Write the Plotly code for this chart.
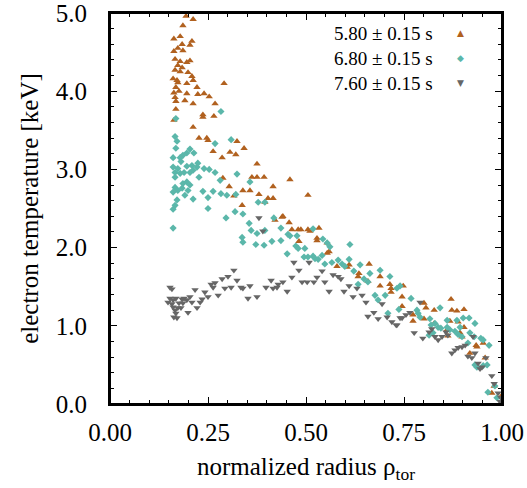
import plotly.graph_objects as go

# ---- data: 5.80 +/- 0.15 s (triangle up) ----
rho_580 = [0.194,0.212,0.186,0.163,0.179,0.209,0.184,0.204,0.173,0.186,0.163,0.166,0.179,0.204,0.196,
           0.173,0.184,0.166,0.179,0.199,0.209,0.161,0.171,0.212,0.196,0.173,0.291,0.222,0.168,0.176,
           0.163,0.196,0.224,0.240,0.253,0.166,0.168,0.191,0.212,0.268,0.168,0.237,0.237,0.265,0.163,
           0.212,0.227,0.247,0.250,0.263,0.324,0.342,0.306,0.321,0.286,0.375,0.288,0.362,0.375,0.393,
           0.459,0.416,0.304,0.339,0.357,0.380,0.316,0.403,0.416,0.395,0.337,0.505,0.439,0.441,0.457,
           0.421,0.464,0.480,0.487,0.505,0.510,0.533,0.482,0.528,0.528,0.554,0.559,0.554,0.579,0.610,
           0.605,0.661,0.635,0.633,0.689,0.658,0.714,0.717,0.717,0.689,0.745,0.745,0.748,0.773,0.773,
           0.801,0.806,0.827,0.801,0.870,0.872,0.885,0.903,0.827,0.867,0.888,0.903,0.860,0.862,0.893,
           0.898,0.934,0.936,0.918,0.952,0.957,0.980,0.974,0.998]
te_580 = [4.96,4.92,4.84,4.67,4.70,4.64,4.60,4.59,4.55,4.52,4.51,4.41,4.38,4.39,4.37,
          4.33,4.30,4.27,4.25,4.24,4.19,4.16,4.14,4.14,4.10,4.11,4.10,4.05,4.05,4.00,
          3.98,3.97,3.96,3.97,3.93,3.92,3.87,3.88,3.84,3.84,3.77,3.70,3.67,3.68,3.63,
          3.54,3.40,3.40,3.37,3.23,3.36,3.27,3.22,3.19,3.15,3.07,2.89,2.90,2.90,2.90,
          2.87,2.78,2.78,2.73,2.73,2.68,2.66,2.63,2.63,2.58,2.54,2.67,2.39,2.40,2.32,
          2.35,2.23,2.23,2.23,2.23,2.21,2.25,2.08,2.12,2.09,2.06,1.95,1.93,1.76,1.78,
          1.75,1.79,1.67,1.63,1.63,1.57,1.53,1.48,1.43,1.51,1.37,1.25,1.51,1.14,1.06,
          1.29,1.23,1.20,1.09,1.34,1.20,1.19,1.21,1.03,1.06,1.05,0.98,0.95,0.87,0.91,
          0.86,0.75,0.73,0.65,0.78,0.59,0.23,0.14,0.10]

# ---- data: 6.80 +/- 0.15 s (diamond) ----
rho_680 = [0.168,0.283,0.166,0.171,0.268,0.309,0.168,0.204,0.214,0.196,0.186,0.179,0.161,0.181,0.161,
           0.173,0.196,0.209,0.222,0.224,0.166,0.179,0.189,0.240,0.253,0.268,0.204,0.212,0.227,0.166,
           0.281,0.324,0.357,0.196,0.186,0.204,0.184,0.166,0.173,0.161,0.199,0.191,0.237,0.250,0.263,
           0.283,0.298,0.321,0.212,0.171,0.166,0.161,0.250,0.378,0.395,0.319,0.339,0.296,0.355,0.161,
           0.360,0.375,0.395,0.337,0.339,0.372,0.393,0.413,0.436,0.418,0.436,0.454,0.459,0.477,0.518,
           0.474,0.480,0.497,0.543,0.554,0.561,0.452,0.495,0.505,0.518,0.523,0.531,0.541,0.612,0.548,
           0.566,0.582,0.592,0.599,0.610,0.622,0.638,0.648,0.658,0.663,0.689,0.714,0.633,0.676,0.684,
           0.702,0.732,0.740,0.709,0.737,0.768,0.783,0.786,0.791,0.816,0.819,0.829,0.860,0.860,0.901,
           0.916,0.931,0.885,0.893,0.837,0.844,0.824,0.867,0.918,0.929,0.880,0.888,0.913,0.898,0.946,
           0.952,0.967,0.931,0.936,0.952,0.962,0.982,0.964,0.987,1.000,0.842,0.814]
te_680 = [3.65,3.74,3.42,3.36,3.33,3.38,3.27,3.26,3.21,3.21,3.18,3.15,3.15,3.10,3.03,
          3.01,3.04,3.05,3.03,3.08,2.96,2.95,2.96,3.01,3.00,2.96,2.96,2.99,2.90,2.90,
          2.86,2.94,2.84,2.84,2.82,2.80,2.76,2.77,2.73,2.71,2.73,2.67,2.72,2.64,2.72,
          2.69,2.67,2.68,2.62,2.61,2.54,2.49,2.50,2.58,2.58,2.46,2.43,2.38,2.31,2.25,
          2.22,2.18,2.22,2.13,2.07,2.04,2.03,2.08,2.09,2.38,2.25,2.17,2.15,2.15,2.24,
          2.02,1.99,1.99,2.11,2.06,2.01,1.92,1.88,1.88,1.89,1.86,1.85,1.90,2.04,1.79,
          1.81,1.84,1.79,1.76,1.85,1.70,1.78,1.60,1.56,1.67,1.71,1.63,1.53,1.39,1.33,
          1.39,1.48,1.51,1.16,1.21,1.35,1.20,1.16,1.11,1.09,1.01,1.03,1.07,0.98,1.10,
          1.10,1.03,1.07,0.98,0.98,0.97,0.91,0.95,0.91,0.86,0.93,0.89,0.78,0.86,0.84,
          0.82,0.75,0.50,0.47,0.49,0.50,0.23,0.15,0.08,0.03,1.23,0.88]

# ---- data: 7.60 +/- 0.15 s (triangle down) ----
rho_760 = [0.153,0.158,0.153,0.161,0.168,0.148,0.158,0.161,0.166,0.168,0.163,0.171,0.176,0.173,0.184,
           0.189,0.196,0.186,0.181,0.199,0.204,0.209,0.217,0.222,0.230,0.235,0.242,0.250,0.258,0.263,
           0.268,0.276,0.286,0.293,0.301,0.309,0.316,0.324,0.334,0.339,0.357,0.352,0.375,0.398,0.411,
           0.416,0.429,0.441,0.380,0.390,0.469,0.482,0.508,0.541,0.528,0.520,0.490,0.503,0.464,0.452,
           0.426,0.548,0.559,0.569,0.582,0.589,0.597,0.610,0.620,0.630,0.643,0.653,0.658,0.673,0.684,
           0.694,0.707,0.719,0.730,0.740,0.745,0.755,0.765,0.776,0.791,0.798,0.814,0.821,0.829,0.837,
           0.847,0.857,0.862,0.872,0.880,0.888,0.898,0.906,0.926,0.913,0.923,0.931,0.939,0.944,0.949,
           0.959,0.974,0.980,0.990,0.997,0.995,0.732]
te_760 = [1.49,1.47,1.35,1.33,1.35,1.30,1.28,1.24,1.20,1.16,1.11,1.10,1.29,1.23,1.34,
          1.35,1.33,1.29,1.23,1.17,1.37,1.30,1.46,1.23,1.30,1.34,1.43,1.37,1.53,1.49,
          1.55,1.39,1.60,1.48,1.63,1.49,1.71,1.58,1.49,1.48,1.51,1.35,1.37,1.49,1.58,
          1.48,1.53,1.56,2.38,2.21,1.81,1.71,1.81,1.70,1.62,1.56,1.56,1.56,1.62,1.44,
          1.49,1.56,1.44,1.65,1.63,1.60,1.44,1.51,1.37,1.48,1.39,1.30,1.12,1.17,1.09,
          1.28,1.11,1.05,1.01,1.10,1.10,1.14,1.17,0.91,1.30,0.84,0.92,0.96,0.86,0.82,
          0.86,0.92,0.88,0.65,0.69,0.72,0.73,0.75,0.86,0.61,0.59,0.65,0.52,0.45,0.47,
          0.59,0.36,0.26,0.14,0.08,0.03,1.01]

series_labels = ["5.80 \u00b1 0.15 s", "6.80 \u00b1 0.15 s", "7.60 \u00b1 0.15 s"]
x_ticks = [0.0, 0.25, 0.5, 0.75, 1.0]
y_ticks = [0.0, 1.0, 2.0, 3.0, 4.0, 5.0]

c_580 = "#B1611F"
c_680 = "#5BB7AA"
c_760 = "#666666"
FONT = "Liberation Serif"

fig = go.Figure()
fig.add_trace(go.Scatter(x=rho_580, y=te_580, mode="markers", name=series_labels[0],
                         marker=dict(symbol="triangle-up", size=6.5, color=c_580, line=dict(width=0))))
fig.add_trace(go.Scatter(x=rho_680, y=te_680, mode="markers", name=series_labels[1],
                         marker=dict(symbol="diamond", size=5.5, color=c_680, line=dict(width=0))))
fig.add_trace(go.Scatter(x=rho_760, y=te_760, mode="markers", name=series_labels[2],
                         marker=dict(symbol="triangle-down", size=6.5, color=c_760, line=dict(width=0))))

axis_common = dict(
    showgrid=False, zeroline=False, showline=True, linecolor="black", linewidth=2,
    ticks="inside", ticklen=7, tickwidth=1.3, tickcolor="black", mirror="allticks",
    tickfont=dict(family=FONT, size=25, color="black"), automargin=False,
    ticklabeloverflow="allow",
)

fig.update_xaxes(range=[0, 1.0], tickvals=x_ticks, tickformat=".2f",
                 minor=dict(ticks="inside", ticklen=4, dtick=0.05, tickwidth=1.1, tickcolor="black"),
                 title=dict(text="normalized radius \u03c1<sub>tor</sub>",
                            font=dict(family=FONT, size=25, color="black"), standoff=12),
                 ticklabelstandoff=5, **axis_common)
fig.update_yaxes(range=[0, 5.0], tickvals=y_ticks, tickformat=".1f",
                 minor=dict(ticks="inside", ticklen=4, dtick=0.2, tickwidth=1.1, tickcolor="black"),
                 title=dict(text="electron temperature [keV]",
                            font=dict(family=FONT, size=25, color="black"), standoff=10),
                 ticklabelstandoff=16, **axis_common)

# plot frame (drawn on top so the box is always closed)
fig.add_shape(type="rect", xref="paper", yref="paper", x0=0, x1=1, y0=0, y1=1,
              line=dict(color="black", width=2), layer="above")

# legend (text right-aligned, symbol on the right, like the original)
symbols = ["\u25b2", "\u25c6", "\u25bc"]
colors = [c_580, c_680, c_760]
for i, (lab, sym, col) in enumerate(zip(series_labels, symbols, colors)):
    yy = 0.948 - i * 0.064
    fig.add_annotation(xref="paper", yref="paper", x=0.828, y=yy, xanchor="right", yanchor="middle",
                       text=lab, showarrow=False, font=dict(family=FONT, size=19, color="black"))
    fig.add_annotation(xref="paper", yref="paper", x=0.893, y=yy, xanchor="center", yanchor="middle",
                       text=sym, showarrow=False, font=dict(family="DejaVu Sans", size=9, color=col))

fig.update_layout(
    width=527, height=488, showlegend=False,
    margin=dict(l=110, r=25, t=13, b=84),
    plot_bgcolor="white", paper_bgcolor="white",
)
fig.write_html("out.html")
